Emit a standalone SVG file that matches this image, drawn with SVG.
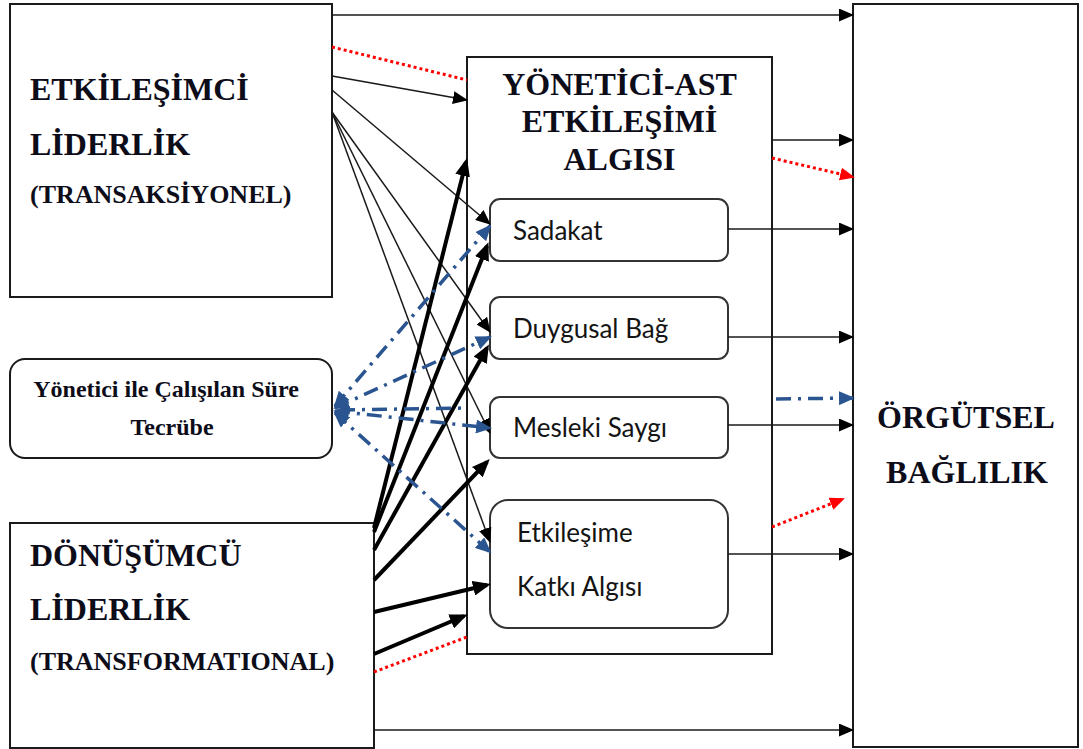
<svg xmlns="http://www.w3.org/2000/svg" width="1083" height="749" viewBox="0 0 1083 749">
  <style>
    .box { fill: #ffffff; stroke: #1a1a1a; stroke-width: 2; }
    .sub { fill: #ffffff; stroke: #333333; stroke-width: 2; }
    .big { font-family: "Liberation Serif", "Times New Roman", serif; font-weight: bold; font-size: 32px; fill: #0d0d1a; }
    .mid { font-family: "Liberation Serif", "Times New Roman", serif; font-weight: bold; font-size: 26px; fill: #0d0d1a; }
    .small { font-family: "Liberation Serif", "Times New Roman", serif; font-weight: bold; font-size: 24px; fill: #0d0d1a; }
    .lbl { font-family: Lato, "Open Sans", sans-serif; font-size: 26px; fill: #141414; }
    .thin { stroke: #1a1a1a; stroke-width: 1.5; fill: none; marker-end: url(#ah); }
    .thick { stroke: #000000; stroke-width: 4; fill: none; marker-end: url(#ahk); }
    .blue { stroke: #2b5591; stroke-width: 3.5; fill: none; stroke-dasharray: 15 7 3 7; marker-end: url(#ahb); }
    .blue2 { marker-start: url(#ahb); }
    .red { stroke: #ff0000; stroke-width: 3; fill: none; stroke-dasharray: 3 3; }
    .redarrow { marker-end: url(#ahr); }
  </style>
  <defs>
    <marker id="ah" markerUnits="userSpaceOnUse" viewBox="0 0 15 13" markerWidth="15" markerHeight="13" refX="14" refY="6.5" orient="auto">
      <path d="M0,0 L15,6.5 L0,13 Z" fill="#000"/>
    </marker>
    <marker id="ahk" markerUnits="userSpaceOnUse" viewBox="0 0 18 15" markerWidth="18" markerHeight="15" refX="14" refY="7.5" orient="auto">
      <path d="M0,0 L18,7.5 L0,15 Z" fill="#000"/>
    </marker>
    <marker id="ahb" markerUnits="userSpaceOnUse" viewBox="0 0 16 14" markerWidth="16" markerHeight="14" refX="14" refY="7" orient="auto-start-reverse">
      <path d="M0,0 L16,7 L0,14 Z" fill="#2b5591"/>
    </marker>
    <marker id="ahr" markerUnits="userSpaceOnUse" viewBox="0 0 15 13" markerWidth="15" markerHeight="13" refX="13" refY="6.5" orient="auto">
      <path d="M0,0 L15,6.5 L0,13 Z" fill="#ff0000"/>
    </marker>
  </defs>

  <rect width="1083" height="749" fill="#ffffff"/>

  <!-- transactional leadership -->
  <g id="etkilesimci">
    <rect class="box" x="10" y="4" width="322" height="293"/>
    <text class="big" x="30" y="100">ETKİLEŞİMCİ</text>
    <text class="big" x="30" y="155">LİDERLİK</text>
    <text class="mid" x="30" y="203">(TRANSAKSİYONEL)</text>
  </g>

  <!-- tenure / experience moderator -->
  <g id="sure">
    <rect class="box" x="10" y="359" width="322" height="99" rx="15"/>
    <text class="small" x="166" y="397" text-anchor="middle">Yönetici ile Çalışılan Süre</text>
    <text class="small" x="172" y="435" text-anchor="middle">Tecrübe</text>
  </g>

  <!-- transformational leadership -->
  <g id="donusumcu">
    <rect class="box" x="10" y="523" width="364" height="225"/>
    <text class="big" x="30" y="566">DÖNÜŞÜMCÜ</text>
    <text class="big" x="30" y="620">LİDERLİK</text>
    <text class="mid" x="30" y="670">(TRANSFORMATIONAL)</text>
  </g>

  <!-- leader-member exchange perception -->
  <g id="lmx">
    <rect class="box" x="467" y="57" width="305" height="597"/>
    <text class="big" x="619.5" y="95" text-anchor="middle">YÖNETİCİ-AST</text>
    <text class="big" x="619.5" y="132" text-anchor="middle">ETKİLEŞİMİ</text>
    <text class="big" x="619.5" y="170" text-anchor="middle">ALGISI</text>
  </g>
  <g id="sadakat">
    <rect class="sub" x="490" y="199" width="238" height="62" rx="10"/>
    <text class="lbl" x="513" y="240">Sadakat</text>
  </g>
  <g id="duygusal">
    <rect class="sub" x="490" y="297" width="238" height="62" rx="10"/>
    <text class="lbl" x="513" y="338">Duygusal Bağ</text>
  </g>
  <g id="mesleki">
    <rect class="sub" x="490" y="397" width="238" height="61" rx="10"/>
    <text class="lbl" x="513" y="437">Mesleki Saygı</text>
  </g>
  <g id="katki">
    <rect class="sub" x="490" y="500" width="238" height="128" rx="18"/>
    <text class="lbl" x="517" y="542">Etkileşime</text>
    <text class="lbl" x="517" y="596">Katkı Algısı</text>
  </g>

  <!-- organisational commitment -->
  <g id="orgutsel">
    <rect class="box" x="853" y="4" width="225" height="743"/>
    <text class="big" x="966" y="428" text-anchor="middle">ÖRGÜTSEL</text>
    <text class="big" x="967" y="483" text-anchor="middle">BAĞLILIK</text>
  </g>

  <g id="connectors">
    <!-- thin solid arrows -->
    <path class="thin" d="M332,15 L853,15"/>
    <path class="thin" d="M332,76 L467,100"/>
    <path class="thin" d="M332,90 L490,224"/>
    <path class="thin" d="M332,112 L490,332"/>
    <path class="thin" d="M332,112 L490,433"/>
    <path class="thin" d="M332,112 L490,542"/>
    <path class="thin" d="M772,140 L853,140"/>
    <path class="thin" d="M728,229 L853,229"/>
    <path class="thin" d="M728,337 L853,337"/>
    <path class="thin" d="M728,425 L853,425"/>
    <path class="thin" d="M728,554 L853,554"/>
    <path class="thin" d="M374,730 L853,730"/>

    <!-- thick solid arrows -->
    <path class="thick" d="M374,528 L466,162"/>
    <path class="thick" d="M374,532 L487,246"/>
    <path class="thick" d="M374,550 L487,348"/>
    <path class="thick" d="M374,580 L487,462"/>
    <path class="thick" d="M374,612 L487,585"/>
    <path class="thick" d="M374,654 L464,616"/>

    <!-- blue dash-dot arrows, two-way toward the tenure box -->
    <path class="blue blue2" d="M335,406 L490,226"/>
    <path class="blue blue2" d="M335,408 L490,337"/>
    <path class="blue blue2" d="M335,411 L490,428"/>
    <path class="blue blue2" d="M335,413 L490,552"/>
    <path class="blue" d="M340,410 L467,408 M776,399 L853,398"/>

    <!-- red dotted arrows -->
    <path class="red" d="M332,47 L467,80"/>
    <path class="red redarrow" d="M772,158 L853,177"/>
    <path class="red redarrow" d="M772,527 L843,499"/>
    <path class="red" d="M374,672 L467,637"/>
  </g>
</svg>
